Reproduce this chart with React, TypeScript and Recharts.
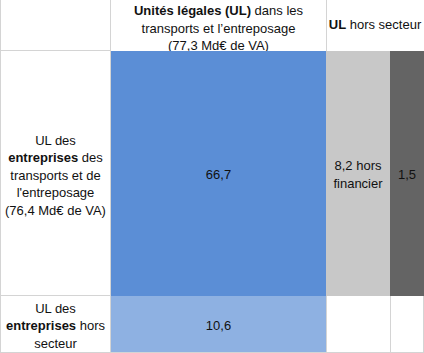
import React from 'react';
import { ComposedChart, XAxis, YAxis, ReferenceArea, ReferenceLine } from 'recharts';

type Seg = { t: string; b?: boolean };
type Line = Seg[];

// ---- data ----
const columnHeaders: Line[][] = [
  [
    [{ t: 'Unités légales (UL)', b: true }, { t: ' dans les' }],
    [{ t: 'transports et l’entreposage' }],
    [{ t: '(77,3 Md€ de VA)' }],
  ],
  [[{ t: 'UL', b: true }, { t: ' hors secteur' }]],
];

const rowHeaders: Line[][] = [
  [
    [{ t: 'UL des' }],
    [{ t: 'entreprises', b: true }, { t: ' des' }],
    [{ t: 'transports et de' }],
    [{ t: "l'entreposage" }],
    [{ t: '(76,4 Md€ de VA)' }],
  ],
  [
    [{ t: 'UL des' }],
    [{ t: 'entreprises', b: true }, { t: ' hors' }],
    [{ t: 'secteur' }],
  ],
];

const valuesEntreprisesTransports: (number | null)[] = [66.7, 8.2, 1.5];
const valuesEntreprisesHorsSecteur: (number | null)[] = [10.6, null, null];
const notesEntreprisesTransports: string[][] = [[], ['hors', 'financier'], []];
const notesEntreprisesHorsSecteur: string[][] = [[], [], []];

// ---- layout & style ----
const W = 424;
const H = 353;
const colEdges = [0, 111, 326, 390, 424];
const rowEdges = [0, 51, 296, 352];
const cellColors = [
  ['#5B8ED6', '#C8C8C8', '#646464'],
  ['#8EB1E2', null, null],
];
const GRID = '#D4D4D4';
const FONT = '"Liberation Sans", Arial, sans-serif';
const LH = 17.5;

const fmt = (v: number) => v.toFixed(1).replace('.', ',');

const makeShape = (lines: Line[], fill: string | null, dy: number) => (props: any) => {
  const { x, y, width, height } = props;
  const cx = x + width / 2;
  const cy = y + height / 2 + dy;
  const first = cy - ((lines.length - 1) * LH) / 2;
  return (
    <g>
      {fill && <rect x={x} y={y} width={width} height={height} fill={fill} />}
      {lines.map((ln, i) => (
        <text
          key={i}
          x={cx}
          y={first + i * LH}
          textAnchor="middle"
          dominantBaseline="central"
          fontFamily={FONT}
          fontSize={13}
          fill="#111"
        >
          {ln.map((s, j) => (
            <tspan key={j} fontWeight={s.b ? 'bold' : 'normal'}>
              {s.t}
            </tspan>
          ))}
        </text>
      ))}
    </g>
  );
};

export default function App() {
  const rows = [
    { values: valuesEntreprisesTransports, notes: notesEntreprisesTransports },
    { values: valuesEntreprisesHorsSecteur, notes: notesEntreprisesHorsSecteur },
  ];

  const areas: React.ReactNode[] = [];
  // column headers: first spans column 1, second spans columns 2-3
  areas.push(
    <ReferenceArea
      key="h0"
      x1={colEdges[1]}
      x2={colEdges[2]}
      y1={rowEdges[0]}
      y2={rowEdges[1]}
      shape={makeShape(columnHeaders[0], null, 2)}
    />
  );
  areas.push(
    <ReferenceArea
      key="h1"
      x1={colEdges[2]}
      x2={colEdges[4]}
      y1={rowEdges[0]}
      y2={rowEdges[1]}
      shape={makeShape(columnHeaders[1], null, -1.5)}
    />
  );
  rowHeaders.forEach((lines, r) => {
    areas.push(
      <ReferenceArea
        key={'r' + r}
        x1={colEdges[0]}
        x2={colEdges[1]}
        y1={rowEdges[r + 1]}
        y2={rowEdges[r + 2]}
        shape={makeShape(lines, null, 1)}
      />
    );
  });
  rows.forEach((row, r) => {
    row.values.forEach((v, c) => {
      if (v == null) return;
      const notes = row.notes[c];
      const lines: Line[] = notes.length
        ? [[{ t: fmt(v) + ' ' + notes[0] }], ...notes.slice(1).map((n) => [{ t: n }])]
        : [[{ t: fmt(v) }]];
      areas.push(
        <ReferenceArea
          key={`c${r}-${c}`}
          x1={colEdges[c + 1]}
          x2={colEdges[c + 2]}
          y1={rowEdges[r + 1]}
          y2={rowEdges[r + 2]}
          shape={makeShape(lines, cellColors[r][c], 0.5)}
        />
      );
    });
  });

  const seg = (x1: number, y1: number, x2: number, y2: number, k: string) => (
    <ReferenceLine
      key={k}
      segment={[
        { x: x1, y: y1 },
        { x: x2, y: y2 },
      ]}
      stroke={GRID}
      strokeWidth={1}
    />
  );

  const lines = [
    seg(0.5, 0, 0.5, H, 'l0'),
    seg(110.5, 0, 110.5, H, 'l1'),
    seg(326.5, 0, 326.5, 51, 'l2a'),
    seg(326.5, 296, 326.5, H, 'l2b'),
    seg(390.5, 296, 390.5, H, 'l3'),
    seg(423.5, 296, 423.5, H, 'l4'),
    seg(0, 50.5, 111, 50.5, 'h1'),
    seg(0, 295.5, 111, 295.5, 'h2'),
    seg(0, 352.5, W, 352.5, 'h3'),
  ];

  return (
    <div style={{ position: 'absolute', left: 0, top: 0, background: '#fff' }}>
      <ComposedChart
        width={W}
        height={H}
        data={[{ x: 0, y: 0 }]}
        margin={{ top: 0, right: 0, bottom: 0, left: 0 }}
      >
        <XAxis type="number" dataKey="x" domain={[0, W]} hide allowDataOverflow />
        <YAxis type="number" dataKey="y" domain={[0, H]} reversed hide allowDataOverflow />
        {lines}
        {areas}
      </ComposedChart>
    </div>
  );
}
